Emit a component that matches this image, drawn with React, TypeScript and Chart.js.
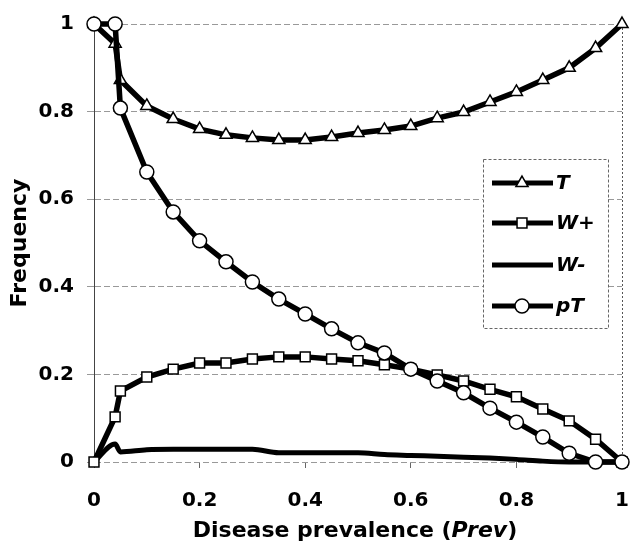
import React, { useEffect, useRef } from 'react';
import { Chart, registerables } from 'chart.js';

Chart.register(...registerables);

// Disease prevalence values (x)
const prevalence = [0, 0.04, 0.05, 0.1, 0.15, 0.2, 0.25, 0.3, 0.35, 0.4, 0.45, 0.5, 0.55, 0.6, 0.65, 0.7, 0.75, 0.8, 0.85, 0.9, 0.95, 1];

// Series values
const seriesT = [1, 0.955, 0.872, 0.813, 0.783, 0.76, 0.747, 0.74, 0.735, 0.735, 0.742, 0.751, 0.758, 0.767, 0.785, 0.799, 0.822, 0.845, 0.872, 0.9, 0.945, 1];
const seriesWPlus = [0, 0.103, 0.162, 0.194, 0.212, 0.226, 0.226, 0.235, 0.24, 0.24, 0.235, 0.231, 0.222, 0.212, 0.199, 0.185, 0.166, 0.149, 0.121, 0.094, 0.052, 0];
const seriesWMinus = [0, 0.041, 0.023, 0.028, 0.029, 0.029, 0.029, 0.029, 0.021, 0.021, 0.021, 0.021, 0.017, 0.015, 0.013, 0.011, 0.009, 0.006, 0.002, 0, 0, 0];
const seriesPT = [1, 1, 0.808, 0.662, 0.571, 0.505, 0.457, 0.411, 0.372, 0.338, 0.304, 0.272, 0.249, 0.212, 0.185, 0.158, 0.123, 0.091, 0.057, 0.02, 0, 0];

const seriesNames = ['T', 'W+', 'W-', 'pT'];
const xTicks = [0, 0.2, 0.4, 0.6, 0.8, 1];
const yTicks = [0, 0.2, 0.4, 0.6, 0.8, 1];
const xTitleParts = ['Disease prevalence (', 'Prev', ')'];
const yTitle = 'Frequency';

const FONT = '"DejaVu Sans", sans-serif';

function drawMarker(ctx: CanvasRenderingContext2D, style: string | false, x: number, y: number, r: number) {
  if (!style) return;
  ctx.save();
  ctx.fillStyle = '#fff';
  ctx.strokeStyle = '#000';
  ctx.lineWidth = 1.5;
  ctx.beginPath();
  if (style === 'circle') {
    ctx.arc(x, y, r, 0, Math.PI * 2);
  } else if (style === 'rect') {
    const s = r * Math.SQRT1_2;
    ctx.rect(x - s, y - s, 2 * s, 2 * s);
  } else if (style === 'triangle') {
    let a = 0;
    ctx.moveTo(x + Math.sin(a) * r, y - Math.cos(a) * r);
    a += (2 * Math.PI) / 3;
    ctx.lineTo(x + Math.sin(a) * r, y - Math.cos(a) * r);
    a += (2 * Math.PI) / 3;
    ctx.lineTo(x + Math.sin(a) * r, y - Math.cos(a) * r);
    ctx.closePath();
  }
  ctx.fill();
  ctx.stroke();
  ctx.restore();
}

const overlayPlugin = {
  id: 'overlay',
  afterDraw(chart: any) {
    const ctx: CanvasRenderingContext2D = chart.ctx;
    const area = chart.chartArea;
    // X axis title with italic part
    ctx.save();
    ctx.fillStyle = '#000';
    ctx.textBaseline = 'middle';
    ctx.textAlign = 'left';
    const fonts = [`bold 22px ${FONT}`, `italic bold 22px ${FONT}`, `bold 22px ${FONT}`];
    let total = 0;
    const widths = xTitleParts.map((p, i) => {
      ctx.font = fonts[i];
      const w = ctx.measureText(p).width;
      total += w;
      return w;
    });
    let tx = (area.left + area.right) / 2 - 3 - total / 2;
    const ty = 531;
    xTitleParts.forEach((p, i) => {
      ctx.font = fonts[i];
      ctx.fillText(p, tx, ty);
      tx += widths[i];
    });
    ctx.restore();

    // Legend box
    const bx = area.right - 139;
    const by = 159;
    const bw = 125;
    const bh = 169;
    ctx.save();
    ctx.fillStyle = '#fff';
    ctx.fillRect(bx, by, bw, bh);
    ctx.strokeStyle = '#666';
    ctx.lineWidth = 1;
    ctx.setLineDash([3, 2]);
    ctx.strokeRect(bx + 0.5, by + 0.5, bw, bh);
    ctx.setLineDash([]);
    const rows = [183, 223, 265, 306];
    chart.data.datasets.forEach((ds: any, i: number) => {
      const y = rows[i];
      ctx.strokeStyle = '#000';
      ctx.lineWidth = 5;
      ctx.lineCap = 'butt';
      ctx.beginPath();
      ctx.moveTo(bx + 9, y);
      ctx.lineTo(bx + 70, y);
      ctx.stroke();
      drawMarker(ctx, ds.pointRadius > 0 ? ds.pointStyle : false, bx + 39, y, 7);
      ctx.fillStyle = '#000';
      ctx.font = `italic bold 20px ${FONT}`;
      ctx.textBaseline = 'middle';
      ctx.textAlign = 'left';
      ctx.fillText(ds.label, bx + 73, y + 1);
    });
    ctx.restore();
  },
};

function toPoints(ys: number[]) {
  return prevalence.map((x, i) => ({ x, y: ys[i] }));
}

export default function App() {
  const ref = useRef<HTMLCanvasElement | null>(null);

  useEffect(() => {
    document.body.style.margin = '0';
    const canvas = ref.current;
    if (!canvas) return;
    const common = {
      borderColor: '#000',
      borderWidth: 5.5,
      pointRadius: 7,
      pointHoverRadius: 7,
      pointBackgroundColor: '#fff',
      pointBorderColor: '#000',
      pointBorderWidth: 1.5,
      tension: 0,
      clip: false as any,
      fill: false,
    };
    const chart = new Chart(canvas, {
      type: 'line',
      data: {
        datasets: [
          { ...common, label: seriesNames[0], data: toPoints(seriesT), pointStyle: 'triangle', order: 2 },
          { ...common, label: seriesNames[1], data: toPoints(seriesWPlus), pointStyle: 'rect', order: 1 },
          { ...common, label: seriesNames[2], data: toPoints(seriesWMinus), pointRadius: 0, pointHoverRadius: 0, borderWidth: 5, cubicInterpolationMode: 'monotone', order: 3 },
          { ...common, label: seriesNames[3], data: toPoints(seriesPT), pointStyle: 'circle', order: 0 },
        ] as any,
      },
      options: {
        animation: false,
        responsive: false,
        maintainAspectRatio: false,
        layout: { padding: { top: 24, right: 9, left: 0, bottom: 0 } },
        plugins: { legend: { display: false }, tooltip: { enabled: false } },
        events: [],
        scales: {
          x: {
            type: 'linear',
            min: 0,
            max: 1,
            afterBuildTicks: (s: any) => {
              s.ticks = xTicks.map((v) => ({ value: v }));
            },
            afterFit: (s: any) => {
              s.height = 84;
              s.paddingLeft = 0;
              s.paddingRight = 0;
            },
            ticks: {
              font: { family: FONT, size: 20, weight: 'bold' },
              color: '#000',
              padding: 21,
              maxRotation: 0,
              autoSkip: false,
              callback: (v: any) => String(v),
            },
            grid: {
              color: (c: any) => (c.tick && c.tick.value === 1 ? '#555' : 'rgba(0,0,0,0)'),
              tickColor: '#666',
              tickLength: 6,
              lineWidth: 1,
            },
            border: { display: false, dash: [2, 2] },
          },
          y: {
            type: 'linear',
            min: 0,
            max: 1,
            afterBuildTicks: (s: any) => {
              s.ticks = yTicks.map((v) => ({ value: v }));
            },
            afterFit: (s: any) => {
              s.width = 94;
              s.paddingTop = 0;
              s.paddingBottom = 0;
            },
            ticks: {
              font: { family: FONT, size: 20, weight: 'bold' },
              color: '#000',
              padding: 13,
              autoSkip: false,
              callback: (v: any) => String(v),
            },
            grid: {
              color: '#999',
              tickColor: '#999',
              tickLength: 7,
              lineWidth: 1,
            },
            border: { display: true, color: '#444', width: 1, dash: [6, 3] },
            title: {
              display: true,
              text: yTitle,
              color: '#000',
              font: { family: FONT, size: 22, weight: 'bold' },
              padding: { top: 7, bottom: 0 },
            },
          },
        },
      } as any,
      plugins: [overlayPlugin],
    });
    return () => chart.destroy();
  }, []);

  return (
    <div style={{ width: 631, height: 546 }}>
      <canvas ref={ref} width={631} height={546} style={{ display: 'block' }} />
    </div>
  );
}
